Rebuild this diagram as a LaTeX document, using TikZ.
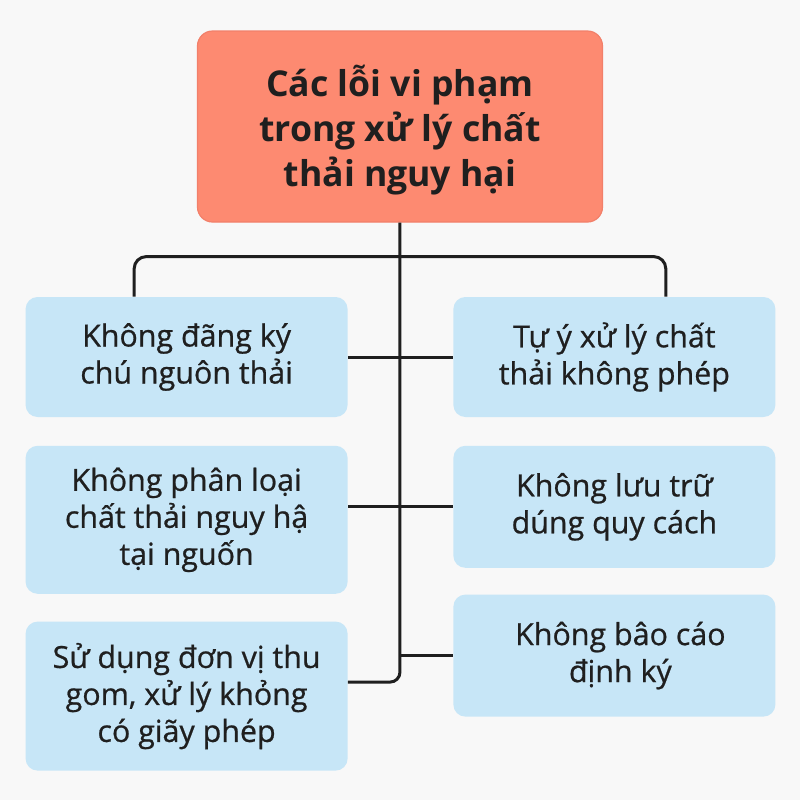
\documentclass[tikz,border=0pt]{standalone}
\usepackage{fontspec}
\setmainfont{Open Sans}
\newfontfamily\leaffont{Open Sans}[BoldFont={Open Sans}, BoldFeatures={FakeBold=0.7}]
\usepackage{xcolor}
\usepackage{tikz}
\usetikzlibrary{arrows.meta, positioning, calc}
\definecolor{coral}{HTML}{FD8A71}
\definecolor{coraledge}{HTML}{F2806A}
\definecolor{skyfill}{HTML}{C7E6F7}
\definecolor{ink}{HTML}{1F1F1F}
\definecolor{paper}{HTML}{F8F8F8}

\begin{document}
\begin{tikzpicture}[
  root/.style={draw=coraledge, line width=0.6pt, fill=coral, rounded corners=7.5pt,
               minimum width=202.5pt, minimum height=95.5pt, align=center,
               font=\fontsize{17.8}{22.5}\selectfont\bfseries, text=ink},
  leaf/.style={fill=skyfill, rounded corners=6pt, minimum width=161pt,
               align=center, font=\fontsize{15.2}{18.5}\selectfont\leaffont\bfseries, text=ink},
  link/.style={draw=ink, line width=1.5pt}
]
  % Background
  \fill[paper] (-200pt,63.25pt) rectangle (200pt,-336.75pt);
  \useasboundingbox (-200pt,63.25pt) rectangle (200pt,-336.75pt);

  % Top
  \node[root] (top) at (0,0) {\rule{0pt}{19pt}Các lỗi vi phạm\\trong xử lý chất\\thải nguy hại};

  % Left column
  \node[leaf, minimum height=60pt, anchor=north east]
    (l1) at ([xshift=-26pt, yshift=-37pt]top.south) {Không đãng ký\\chú nguôn thải};
  \node[leaf, minimum height=74pt, below=14pt of l1]
    (l2) {Không phân loại\\chất thải nguy hậ\\tại nguốn};
  \node[leaf, minimum height=74.5pt, below=13.5pt of l2]
    (l3) {Sử dụng đơn vị thu\\gom, xử lý khỏng\\có giãy phép};

  % Right column
  \node[leaf, minimum height=60pt, anchor=north west]
    (r1) at ([xshift=26.5pt, yshift=-37pt]top.south) {Tự ý xử lý chất\\thải không phép};
  \node[leaf, minimum height=61pt, below=14pt of r1]
    (r2) {Không lưu trữ\\dúng quy cách};
  \node[leaf, minimum height=61pt, below=13pt of r2]
    (r3) {\hspace*{6pt}Không bâo cáo\\\hspace*{6pt}định ký};

  % Branch points
  \coordinate (fork) at ([yshift=-17pt]top.south);
  \coordinate (ldrop) at ([xshift=54.5pt]l1.north west);
  \coordinate (rdrop) at ([xshift=-55pt]r1.north east);

  % Connectors
  \draw[link, rounded corners=6pt] (ldrop) |- (fork) -| (rdrop);
  \draw[link, rounded corners=5pt] (top.south) |- ([yshift=7pt]l3.east);
  \draw[link] (l1.east) -- (r1.west);
  \draw[link] (r2.west) -- (r2.west -| l2.east);
  \draw[link] (r3.west) -- (r3.west -| top.south);
\end{tikzpicture}
\end{document}
